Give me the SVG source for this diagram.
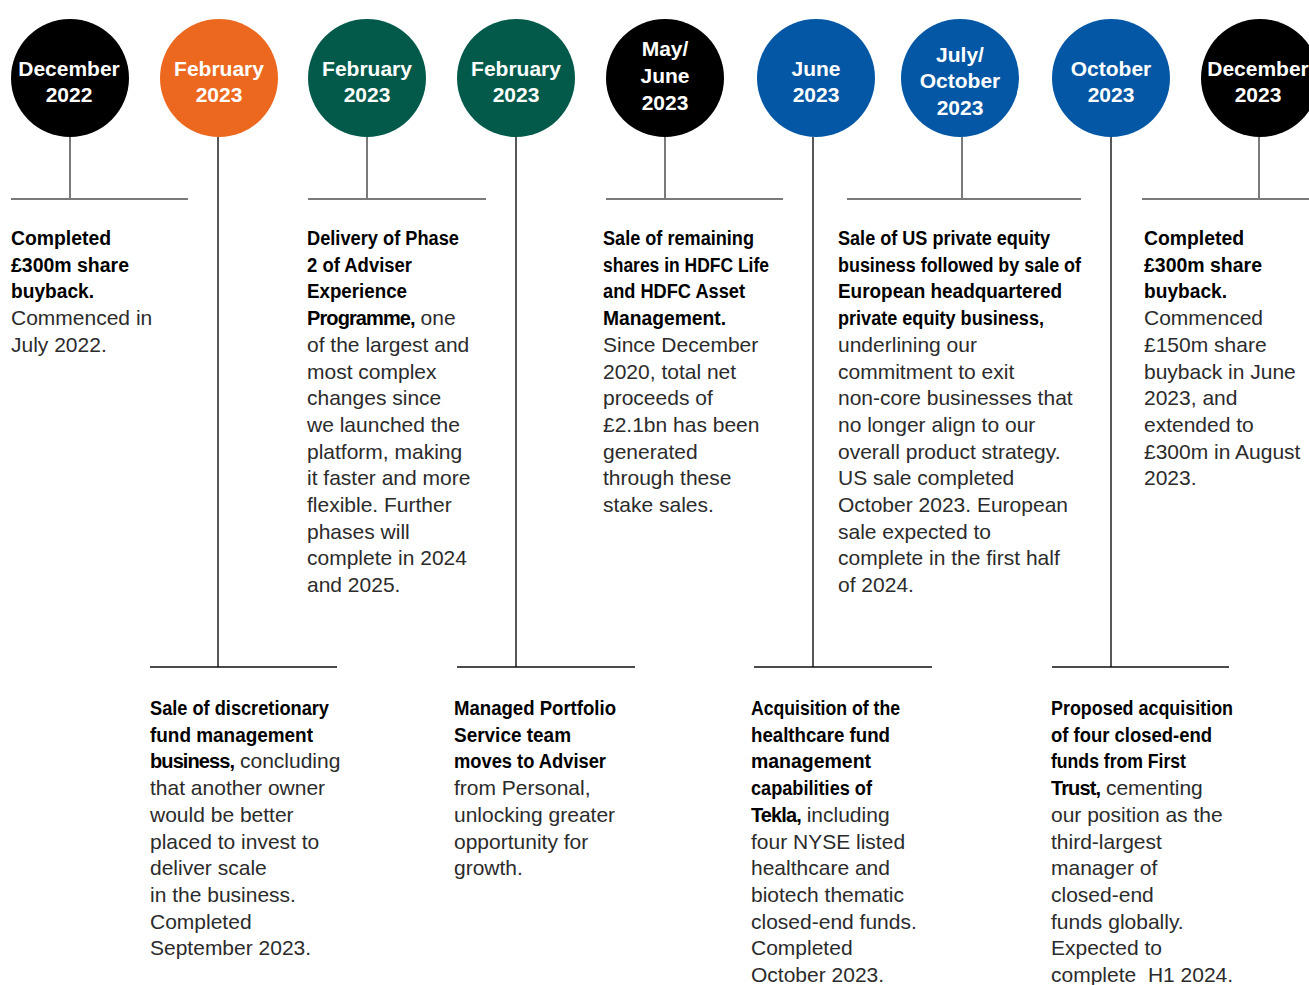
<svg xmlns="http://www.w3.org/2000/svg" width="1309" height="985" viewBox="0 0 1309 985">
<style>
.b{font-family:"Liberation Sans",Arial,sans-serif;font-weight:700;font-size:20px;fill:#000}
.bm{font-weight:700;fill:#000;letter-spacing:-0.9px}
.r{font-family:"Liberation Sans",Arial,sans-serif;font-weight:400;font-size:21px;fill:#2b2b2b}
.rm{font-weight:400;font-size:21px;fill:#2b2b2b}
.m{font-family:"Liberation Sans",Arial,sans-serif;font-size:20px}
.c{font-family:"Liberation Sans",Arial,sans-serif;font-weight:700;font-size:21px;fill:#fff;text-anchor:middle}
.up{stroke:#7a7a7a;stroke-width:2;fill:none}
.lo{stroke:#111;stroke-width:1.4;fill:none}
.k{fill:#000}.o{fill:#ec681e}.g{fill:#035a4a}.u{fill:#0457a5}
</style>
<rect width="1309" height="985" fill="#fff"/>
<g id="connectors">
<path class="up" d="M70 137V199M11 199H188"/>
<path class="up" d="M367 137V199M308 199H486"/>
<path class="up" d="M665 137V199M606 199H783"/>
<path class="up" d="M962 137V199M847 199H1081"/>
<path class="up" d="M1259 137V199M1142 199H1309"/>
<path class="lo" d="M218 137V667M150 667H337"/>
<path class="lo" d="M516 137V667M457 667H635"/>
<path class="lo" d="M813 137V667M754 667H932"/>
<path class="lo" d="M1111 137V667M1052 667H1229"/>
</g>
<g id="n1">
<circle class="k" cx="70" cy="78" r="59"/>
<text class="c" x="69" y="76">December</text><text class="c" x="69" y="102">2022</text>
<text class="b" x="11" y="245" textLength="100" lengthAdjust="spacingAndGlyphs">Completed</text>
<text class="b" x="11" y="271.7" textLength="118" lengthAdjust="spacingAndGlyphs">£300m share</text>
<text class="b" x="11" y="298.4" textLength="83" lengthAdjust="spacingAndGlyphs">buyback.</text>
<text class="r" x="11" y="325.1">Commenced in</text>
<text class="r" x="11" y="351.8">July 2022.</text>
</g>
<g id="n2">
<circle class="o" cx="219" cy="78" r="59"/>
<text class="c" x="219" y="76">February</text><text class="c" x="219" y="102">2023</text>
<text class="b" x="150" y="715" textLength="179" lengthAdjust="spacingAndGlyphs">Sale of discretionary</text>
<text class="b" x="150" y="741.7" textLength="163" lengthAdjust="spacingAndGlyphs">fund management</text>
<text class="m" x="150" y="768.4"><tspan class="bm">business,</tspan><tspan class="rm"> concluding</tspan></text>
<text class="r" x="150" y="795.1">that another owner</text>
<text class="r" x="150" y="821.8">would be better</text>
<text class="r" x="150" y="848.5">placed to invest to</text>
<text class="r" x="150" y="875.2">deliver scale</text>
<text class="r" x="150" y="901.9">in the business.</text>
<text class="r" x="150" y="928.6">Completed</text>
<text class="r" x="150" y="955.3">September 2023.</text>
</g>
<g id="n3">
<circle class="g" cx="367" cy="78" r="59"/>
<text class="c" x="367" y="76">February</text><text class="c" x="367" y="102">2023</text>
<text class="b" x="307" y="245" textLength="152" lengthAdjust="spacingAndGlyphs">Delivery of Phase</text>
<text class="b" x="307" y="271.7" textLength="105" lengthAdjust="spacingAndGlyphs">2 of Adviser</text>
<text class="b" x="307" y="298.4" textLength="100" lengthAdjust="spacingAndGlyphs">Experience</text>
<text class="m" x="307" y="325.1"><tspan class="bm">Programme,</tspan><tspan class="rm"> one</tspan></text>
<text class="r" x="307" y="351.8">of the largest and</text>
<text class="r" x="307" y="378.5">most complex</text>
<text class="r" x="307" y="405.2">changes since</text>
<text class="r" x="307" y="431.9">we launched the</text>
<text class="r" x="307" y="458.6">platform, making</text>
<text class="r" x="307" y="485.3">it faster and more</text>
<text class="r" x="307" y="512">flexible. Further</text>
<text class="r" x="307" y="538.7">phases will</text>
<text class="r" x="307" y="565.4">complete in 2024</text>
<text class="r" x="307" y="592.1">and 2025.</text>
</g>
<g id="n4">
<circle class="g" cx="516" cy="78" r="59"/>
<text class="c" x="516" y="76">February</text><text class="c" x="516" y="102">2023</text>
<text class="b" x="454" y="715" textLength="162" lengthAdjust="spacingAndGlyphs">Managed Portfolio</text>
<text class="b" x="454" y="741.7" textLength="117" lengthAdjust="spacingAndGlyphs">Service team</text>
<text class="b" x="454" y="768.4" textLength="152" lengthAdjust="spacingAndGlyphs">moves to Adviser</text>
<text class="r" x="454" y="795.1">from Personal,</text>
<text class="r" x="454" y="821.8">unlocking greater</text>
<text class="r" x="454" y="848.5">opportunity for</text>
<text class="r" x="454" y="875.2">growth.</text>
</g>
<g id="n5">
<circle class="k" cx="665" cy="78" r="59"/>
<text class="c" x="665" y="56">May/</text><text class="c" x="665" y="83">June</text><text class="c" x="665" y="110">2023</text>
<text class="b" x="603" y="245" textLength="151" lengthAdjust="spacingAndGlyphs">Sale of remaining</text>
<text class="b" x="603" y="271.7" textLength="166" lengthAdjust="spacingAndGlyphs">shares in HDFC Life</text>
<text class="b" x="603" y="298.4" textLength="142" lengthAdjust="spacingAndGlyphs">and HDFC Asset</text>
<text class="b" x="603" y="325.1" textLength="123" lengthAdjust="spacingAndGlyphs">Management.</text>
<text class="r" x="603" y="351.8">Since December</text>
<text class="r" x="603" y="378.5">2020, total net</text>
<text class="r" x="603" y="405.2">proceeds of</text>
<text class="r" x="603" y="431.9">£2.1bn has been</text>
<text class="r" x="603" y="458.6">generated</text>
<text class="r" x="603" y="485.3">through these</text>
<text class="r" x="603" y="512">stake sales.</text>
</g>
<g id="n6">
<circle class="u" cx="816" cy="78" r="59"/>
<text class="c" x="816" y="76">June</text><text class="c" x="816" y="102">2023</text>
<text class="b" x="751" y="715" textLength="149" lengthAdjust="spacingAndGlyphs">Acquisition of the</text>
<text class="b" x="751" y="741.7" textLength="139" lengthAdjust="spacingAndGlyphs">healthcare fund</text>
<text class="b" x="751" y="768.4" textLength="120" lengthAdjust="spacingAndGlyphs">management</text>
<text class="b" x="751" y="795.1" textLength="121" lengthAdjust="spacingAndGlyphs">capabilities of</text>
<text class="m" x="751" y="821.8"><tspan class="bm">Tekla,</tspan><tspan class="rm"> including</tspan></text>
<text class="r" x="751" y="848.5">four NYSE listed</text>
<text class="r" x="751" y="875.2">healthcare and</text>
<text class="r" x="751" y="901.9">biotech thematic</text>
<text class="r" x="751" y="928.6">closed-end funds.</text>
<text class="r" x="751" y="955.3">Completed</text>
<text class="r" x="751" y="982">October 2023.</text>
</g>
<g id="n7">
<circle class="u" cx="960" cy="78" r="59"/>
<text class="c" x="960" y="62">July/</text><text class="c" x="960" y="88">October</text><text class="c" x="960" y="115">2023</text>
<text class="b" x="838" y="245" textLength="212" lengthAdjust="spacingAndGlyphs">Sale of US private equity</text>
<text class="b" x="838" y="271.7" textLength="243" lengthAdjust="spacingAndGlyphs">business followed by sale of</text>
<text class="b" x="838" y="298.4" textLength="224" lengthAdjust="spacingAndGlyphs">European headquartered</text>
<text class="b" x="838" y="325.1" textLength="206" lengthAdjust="spacingAndGlyphs">private equity business,</text>
<text class="r" x="838" y="351.8">underlining our</text>
<text class="r" x="838" y="378.5">commitment to exit</text>
<text class="r" x="838" y="405.2">non-core businesses that</text>
<text class="r" x="838" y="431.9">no longer align to our</text>
<text class="r" x="838" y="458.6">overall product strategy.</text>
<text class="r" x="838" y="485.3">US sale completed</text>
<text class="r" x="838" y="512">October 2023. European</text>
<text class="r" x="838" y="538.7">sale expected to</text>
<text class="r" x="838" y="565.4">complete in the first half</text>
<text class="r" x="838" y="592.1">of 2024.</text>
</g>
<g id="n8">
<circle class="u" cx="1111" cy="78" r="59"/>
<text class="c" x="1111" y="76">October</text><text class="c" x="1111" y="102">2023</text>
<text class="b" x="1051" y="715" textLength="182" lengthAdjust="spacingAndGlyphs">Proposed acquisition</text>
<text class="b" x="1051" y="741.7" textLength="161" lengthAdjust="spacingAndGlyphs">of four closed-end</text>
<text class="b" x="1051" y="768.4" textLength="135" lengthAdjust="spacingAndGlyphs">funds from First</text>
<text class="m" x="1051" y="795.1"><tspan class="bm">Trust,</tspan><tspan class="rm"> cementing</tspan></text>
<text class="r" x="1051" y="821.8">our position as the</text>
<text class="r" x="1051" y="848.5">third-largest</text>
<text class="r" x="1051" y="875.2">manager of</text>
<text class="r" x="1051" y="901.9">closed-end</text>
<text class="r" x="1051" y="928.6">funds globally.</text>
<text class="r" x="1051" y="955.3">Expected to</text>
<text class="r" x="1051" y="982" xml:space="preserve">complete  H1 2024.</text>
</g>
<g id="n9">
<circle class="k" cx="1260" cy="78" r="59"/>
<text class="c" x="1258" y="76">December</text><text class="c" x="1258" y="102">2023</text>
<text class="b" x="1144" y="245" textLength="100" lengthAdjust="spacingAndGlyphs">Completed</text>
<text class="b" x="1144" y="271.7" textLength="118" lengthAdjust="spacingAndGlyphs">£300m share</text>
<text class="b" x="1144" y="298.4" textLength="83" lengthAdjust="spacingAndGlyphs">buyback.</text>
<text class="r" x="1144" y="325.1">Commenced</text>
<text class="r" x="1144" y="351.8">£150m share</text>
<text class="r" x="1144" y="378.5">buyback in June</text>
<text class="r" x="1144" y="405.2">2023, and</text>
<text class="r" x="1144" y="431.9">extended to</text>
<text class="r" x="1144" y="458.6">£300m in August</text>
<text class="r" x="1144" y="485.3">2023.</text>
</g>
</svg>
